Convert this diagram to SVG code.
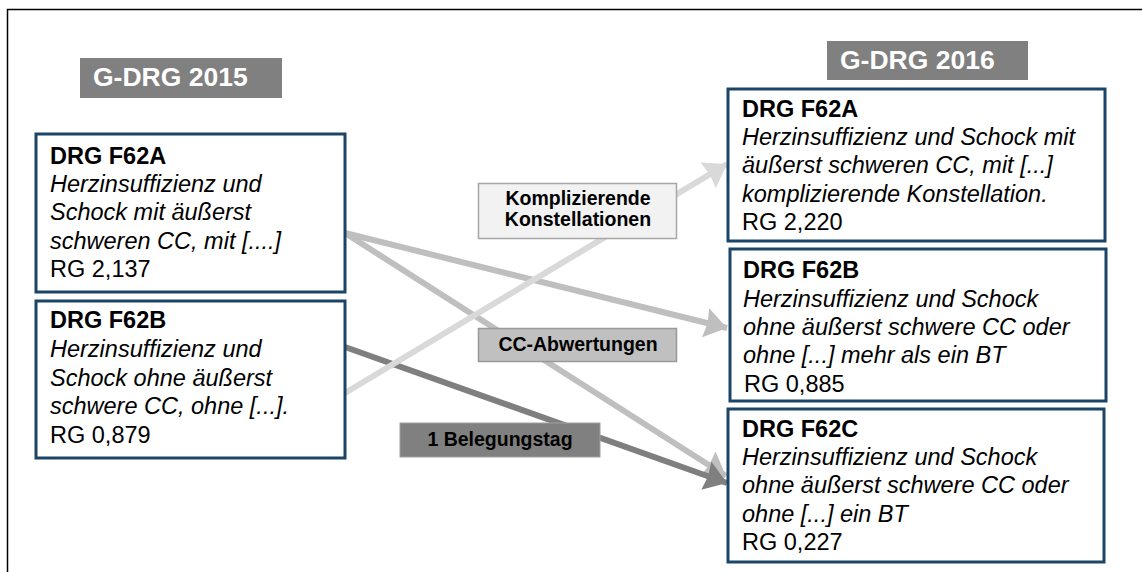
<svg xmlns="http://www.w3.org/2000/svg" width="1142" height="572" viewBox="0 0 1142 572">
<style>
.box{fill:#ffffff;stroke:#1b4566;stroke-width:3}
.t{font-family:"Liberation Sans",Arial,sans-serif;font-size:23.5px;fill:#000}
.b{font-weight:bold}
.i{font-style:italic}
.hdr{fill:#808080}
.ht{font-family:"Liberation Sans",Arial,sans-serif;font-size:26.5px;font-weight:bold;fill:#ffffff}
.lt{font-family:"Liberation Sans",Arial,sans-serif;font-size:19.5px;font-weight:bold;fill:#000;text-anchor:middle}
</style>
<defs>
<marker id="hL" markerUnits="userSpaceOnUse" markerWidth="24" markerHeight="32" refX="22" refY="15" orient="auto" viewBox="0 0 24 30"><path d="M0,0 L22,15 L0,30 L2,15 Z" fill="#d9d9d9"/></marker>
<marker id="hM" markerUnits="userSpaceOnUse" markerWidth="24" markerHeight="32" refX="22" refY="15" orient="auto" viewBox="0 0 24 30"><path d="M0,0 L22,15 L0,30 L2,15 Z" fill="#bfbfbf"/></marker>
<marker id="hD" markerUnits="userSpaceOnUse" markerWidth="24" markerHeight="32" refX="22" refY="15" orient="auto" viewBox="0 0 24 30"><path d="M0,0 L22,15 L0,30 L2,15 Z" fill="#7f7f7f"/></marker>
</defs>
<path d="M7.5,572 V9.5 H1142" fill="none" stroke="#000" stroke-width="1.5"/>

<g id="hdr2015"><rect class="hdr" x="80" y="58" width="202" height="40"/><text class="ht" x="93" y="86">G-DRG 2015</text></g>
<g id="hdr2016"><rect class="hdr" x="827" y="41" width="201" height="39"/><text class="ht" x="840" y="69">G-DRG 2016</text></g>

<g id="connectors" fill="none" stroke-width="6">
<line x1="345" y1="233" x2="726" y2="476" stroke="#bfbfbf" marker-end="url(#hM)"/>
<line x1="345" y1="347" x2="727" y2="483" stroke="#7f7f7f" marker-end="url(#hD)"/>
<line x1="345" y1="233" x2="727" y2="328" stroke="#bfbfbf" marker-end="url(#hM)"/>
<line x1="345" y1="393" x2="727" y2="164" stroke="#d9d9d9" marker-end="url(#hL)"/>
</g>

<g id="l2015a"><rect class="box" x="36" y="134" width="309" height="158"/>
<text class="t" x="50"><tspan class="b" x="50" y="164">DRG F62A</tspan><tspan class="i" x="50" y="192">Herzinsuffizienz und</tspan><tspan class="i" x="50" y="220">Schock mit äußerst</tspan><tspan class="i" x="50" y="249">schweren CC, mit [....]</tspan><tspan x="50" y="277">RG 2,137</tspan></text></g>

<g id="l2015b"><rect class="box" x="36" y="301" width="309" height="157"/>
<text class="t"><tspan class="b" x="50" y="328">DRG F62B</tspan><tspan class="i" x="50" y="357">Herzinsuffizienz und</tspan><tspan class="i" x="50" y="386">Schock ohne äußerst</tspan><tspan class="i" x="50" y="414">schwere CC, ohne [...].</tspan><tspan x="50" y="443">RG 0,879</tspan></text></g>

<g id="r2016a"><rect class="box" x="728" y="89" width="377" height="152"/>
<text class="t"><tspan class="b" x="742" y="117">DRG F62A</tspan><tspan class="i" x="742" y="145">Herzinsuffizienz und Schock mit</tspan><tspan class="i" x="742" y="173">äußerst schweren CC, mit [...]</tspan><tspan class="i" x="742" y="202">komplizierende Konstellation.</tspan><tspan x="742" y="230">RG 2,220</tspan></text></g>

<g id="r2016b"><rect class="box" x="730" y="249" width="376" height="152"/>
<text class="t"><tspan class="b" x="743" y="278">DRG F62B</tspan><tspan class="i" x="743" y="307">Herzinsuffizienz und Schock</tspan><tspan class="i" x="743" y="335">ohne äußerst schwere CC oder</tspan><tspan class="i" x="743" y="363">ohne [...] mehr als ein BT</tspan><tspan x="744" y="392">RG 0,885</tspan></text></g>

<g id="r2016c"><rect class="box" x="728" y="409" width="376" height="153"/>
<text class="t"><tspan class="b" x="742" y="437">DRG F62C</tspan><tspan class="i" x="742" y="465">Herzinsuffizienz und Schock</tspan><tspan class="i" x="742" y="493">ohne äußerst schwere CC oder</tspan><tspan class="i" x="742" y="522">ohne [...] ein BT</tspan><tspan x="742" y="550">RG 0,227</tspan></text></g>

<g id="lblKompl"><rect x="478.5" y="183.5" width="198" height="55" fill="#f2f2f2" stroke="#a6a6a6" stroke-width="1.5"/>
<text class="lt"><tspan x="578" y="205">Komplizierende</tspan><tspan x="578" y="226">Konstellationen</tspan></text></g>
<g id="lblCC"><rect x="478.5" y="328.5" width="198" height="33" fill="#c0c0c0" stroke="#999999" stroke-width="1.5"/>
<text class="lt" x="578" y="351">CC-Abwertungen</text></g>
<g id="lblBeleg"><rect x="400" y="423" width="200" height="34" fill="#808080" stroke="#a0a0a0" stroke-width="1"/>
<text class="lt" x="500" y="446" fill="#111">1 Belegungstag</text></g>
</svg>
